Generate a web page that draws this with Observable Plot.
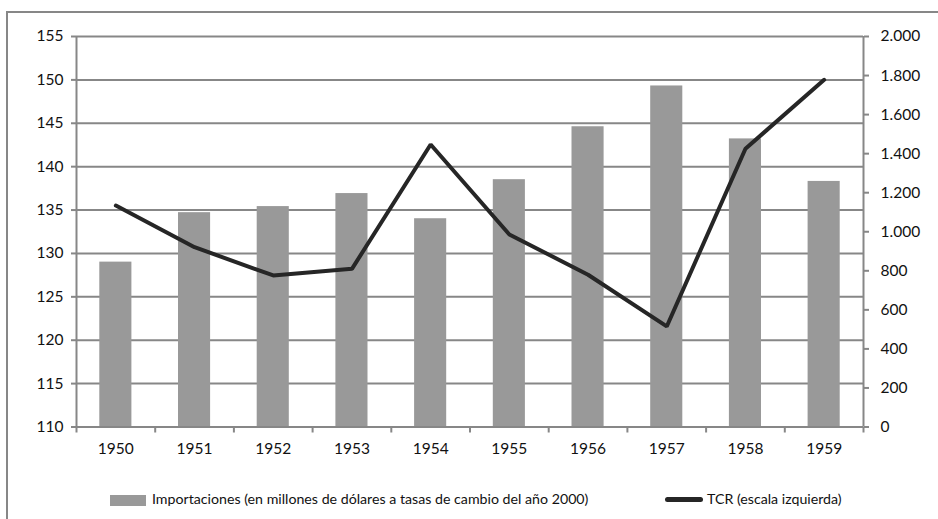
<!DOCTYPE html>
<html>
<head>
<meta charset="utf-8">
<script src="https://cdn.jsdelivr.net/npm/d3@7"></script>
<script src="https://cdn.jsdelivr.net/npm/@observablehq/plot@0.6"></script>
<style>
  html, body { margin: 0; padding: 0; background: #fff; }
  #wrap { position: relative; width: 938px; height: 519px; overflow: hidden; font-family: Lato, "Open Sans", sans-serif; }
  #frame { position: absolute; left: 6px; top: 11px; width: 940px; height: 520px; border-top: 2px solid #878787; border-left: 2px solid #878787; pointer-events: none; }
  #chart { position: absolute; left: 0; top: 0; }
  .leg { position: absolute; top: 490px; height: 18px; line-height: 18px; font-size: 14.2px; color: #111; white-space: nowrap; }
  .sw { position: absolute; }
</style>
</head>
<body>
<div id="wrap">
  <div id="chart"></div>
  <div id="frame"></div>
  <div id="legend"></div>
</div>
<script>
// ---- data ----
const years = [1950, 1951, 1952, 1953, 1954, 1955, 1956, 1957, 1958, 1959];
const importaciones = [129.0, 134.7, 135.4, 136.9, 134.0, 138.5, 144.6, 149.3, 143.2, 138.3];
const tcr = [1134, 921, 776, 810, 1447, 986, 780, 515, 1425, 1778];
const leftTicks = [110, 115, 120, 125, 130, 135, 140, 145, 150, 155];
const rightTicks = [0, 200, 400, 600, 800, 1000, 1200, 1400, 1600, 1800, 2000];
const legendLabels = ["Importaciones (en millones de dólares a tasas de cambio del año 2000)", "TCR (escala izquierda)"];

// secondary axis (0–2000) mapped onto primary (110–155)
const L0 = 110, L1 = 155, R0 = 0, R1 = 2000;
const toLeft = v => L0 + (v - R0) * (L1 - L0) / (R1 - R0);
const toRight = v => R0 + (v - L0) * (R1 - R0) / (L1 - L0);
const fmt = d3.formatLocale({decimal: ",", thousands: ".", grouping: [3], currency: ["", ""]}).format(",");

const data = years.map((y, i) => ({year: y, imp: importaciones[i], tcr: tcr[i]}));
const bounds = years.map(y => y - 0.5).concat([years[years.length - 1] + 0.5]);

const gray = "#878787";
const fs = 15.5;
const chart = Plot.plot({
  width: 938,
  height: 480,
  marginLeft: 76,
  marginRight: 75,
  marginTop: 36,
  marginBottom: 53.5,
  x: {domain: [bounds[0], bounds[bounds.length - 1]], label: null},
  y: {domain: [L0, L1], label: null},
  style: {fontFamily: "Lato, 'Open Sans', sans-serif", fontSize: fs + "px", color: "#111", background: "transparent"},
  marks: [
    Plot.ruleY(leftTicks.filter(t => t > L0), {stroke: gray, strokeWidth: 2, strokeOpacity: 1}),
    Plot.rectY(data, {x1: d => d.year - 0.5, x2: d => d.year + 0.5, y1: L0, y2: "imp", fill: "#999999", insetLeft: 23.3, insetRight: 23.3}),
    Plot.ruleY([L0], {stroke: gray, strokeWidth: 2, strokeOpacity: 1}),
    Plot.ruleX([bounds[0], bounds[bounds.length - 1]], {stroke: gray, strokeWidth: 2, strokeOpacity: 1}),
    Plot.line(data, {x: "year", y: d => toLeft(d.tcr), stroke: "#262626", strokeWidth: 4, strokeLinejoin: "miter", strokeLinecap: "round"}),
    Plot.axisY(leftTicks, {anchor: "left", tickSize: 5, tickPadding: 8, stroke: gray, strokeWidth: 2, strokeOpacity: 1, fill: "#111", fontSize: fs, label: null, tickFormat: d => String(d)}),
    Plot.axisY(rightTicks.map(toLeft), {anchor: "right", tickSize: 5, tickPadding: 12, stroke: gray, strokeWidth: 2, strokeOpacity: 1, fill: "#111", fontSize: fs, label: null, tickFormat: d => fmt(Math.round(toRight(d)))}),
    Plot.axisX(bounds, {anchor: "bottom", tickSize: 6, stroke: gray, strokeWidth: 2, strokeOpacity: 1, label: null, tickFormat: () => ""}),
    Plot.axisX(years, {anchor: "bottom", tickSize: 0, tickPadding: 16, fill: "#111", fontSize: fs, label: null, tickFormat: d => String(d)})
  ]
});
document.getElementById("chart").appendChild(chart);

// legend
const leg = document.getElementById("legend");
leg.innerHTML =
  `<div class="sw" style="left:110px;top:495px;width:36px;height:11px;background:#999999"></div>` +
  `<div class="leg" style="left:152px">${legendLabels[0]}</div>` +
  `<div class="sw" style="left:665px;top:497px;width:38px;height:5px;border-radius:3px;background:#262626"></div>` +
  `<div class="leg" style="left:707px">${legendLabels[1]}</div>`;
</script>
</body>
</html>
